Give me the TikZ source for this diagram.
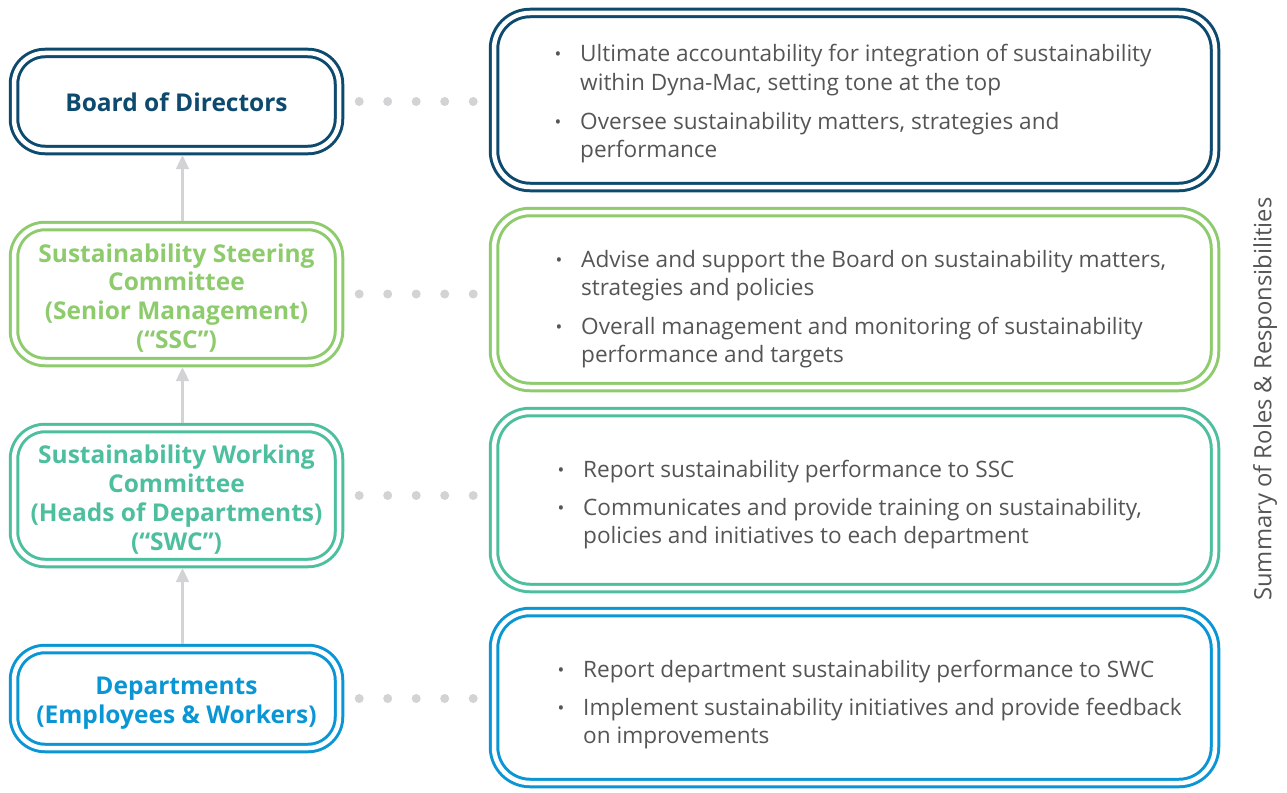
\documentclass[tikz,border=0pt]{standalone}
\usepackage{fontspec}
\setmainfont{Open Sans}
\usetikzlibrary{arrows.meta,calc}
\definecolor{cNavy}{HTML}{0D4A6E}
\definecolor{cGreen}{HTML}{8DCB6C}
\definecolor{cTeal}{HTML}{4DBF9F}
\definecolor{cBlue}{HTML}{0A96D4}
\definecolor{cText}{HTML}{555555}
\definecolor{cGray}{HTML}{D3D3D5}
\tikzset{
  leftbox/.style={draw=#1, line width=3pt, double=white, double distance=4.5pt,
    rounded corners=31pt, minimum width=325pt, outer sep=5.2pt, inner sep=0pt},
  lefttext/.style={text=#1, inner sep=0pt, font=\bfseries\fontsize{24.5}{28.8}\selectfont, align=center},
  rightbox/.style={draw=#1, line width=3pt, double=white, double distance=4.5pt,
    rounded corners=36pt, minimum width=721pt, outer sep=5.2pt, inner sep=0pt},
  uparrow/.style={draw=cGray, line width=2.2pt, -{Triangle[width=13pt,length=14pt]}},
  dotline/.style={draw=cGray, line width=9pt, line cap=round, dash pattern=on 0pt off 28.5pt},
  btxt/.style={anchor=base west, inner sep=0pt, text=cText, font=\fontsize{22.6}{28}\selectfont},
  bdot/.style={anchor=base, inner sep=0pt, text=cText, font=\fontsize{18}{28}\selectfont},
}
\begin{document}
\begin{tikzpicture}[x=1pt,y=-1pt]
\useasboundingbox (0,0) rectangle (1287,792);

% left boxes
\node[leftbox=cNavy, minimum height=97pt] (board) at (176.5,101.5) {};
\node[leftbox=cGreen, minimum height=136pt] (ssc) at (176.5,294) {};
\node[leftbox=cTeal, minimum height=135pt] (swc) at (176.5,495.5) {};
\node[leftbox=cBlue, minimum height=99pt] (dept) at (176.5,698.5) {};
\node[lefttext=cNavy] (boardt) at ([yshift=-1pt]board.center) {Board of Directors};
\node[lefttext=cGreen] (ssct) at ([yshift=-4pt]ssc.center) {Sustainability Steering\\Committee\\(Senior Management)\\(“SSC”)};
\node[lefttext=cTeal] (swct) at ([yshift=-4pt]swc.center) {Sustainability Working\\Committee\\(Heads of Departments)\\(“SWC”)};
\node[lefttext=cBlue] (deptt) at ([yshift=-4.5pt]dept.center) {Departments\\(Employees \& Workers)};

% right boxes
\node[rightbox=cNavy, minimum height=174pt] (rboard) at (854.5,100) {};
\node[rightbox=cGreen, minimum height=175pt] (rssc) at (854.5,299.5) {};
\node[rightbox=cTeal, minimum height=176pt] (rswc) at (854.5,500) {};
\node[rightbox=cBlue, minimum height=171pt] (rdept) at (854.5,697.5) {};

% arrows
\draw[uparrow] ([xshift=6pt]dept.north) -- ([xshift=6pt]swc.south);
\draw[uparrow] ([xshift=6pt]swc.north) -- ([xshift=6pt]ssc.south);
\draw[uparrow] ([xshift=6pt]ssc.north) -- ([xshift=6pt]board.south);

% dotted connectors
\draw[dotline] ([xshift=15pt]board.east) -- ([xshift=-14pt]board.east -| rboard.west);
\draw[dotline] ([xshift=15pt]ssc.east) -- ([xshift=-14pt]ssc.east -| rssc.west);
\draw[dotline] ([xshift=15pt]swc.east) -- ([xshift=-14pt]swc.east -| rswc.west);
\draw[dotline] ([xshift=15pt]dept.east) -- ([xshift=-14pt]dept.east -| rdept.west);

% board bullets
\node[bdot] (b1d) at (558,61) {•};
\node[btxt] (b1a) at (580,62) {Ultimate accountability for integration of sustainability};
\node[btxt] (b1b) at (580,90) {within Dyna-Mac, setting tone at the top};
\node[bdot] (b2d) at (558,128) {•};
\node[btxt] (b2a) at (580,129) {Oversee sustainability matters, strategies and};
\node[btxt] (b2b) at (580,157) {performance};

% ssc bullets
\node[bdot] (s1d) at (559,266) {•};
\node[btxt] (s1a) at (581,267) {Advise and support the Board on sustainability matters,};
\node[btxt] (s1b) at (581,295) {strategies and policies};
\node[bdot] (s2d) at (559,333) {•};
\node[btxt] (s2a) at (581,334) {Overall management and monitoring of sustainability};
\node[btxt] (s2b) at (581,362) {performance and targets};

% swc bullets
\node[bdot] (w1d) at (561,476) {•};
\node[btxt] (w1a) at (583,477) {Report sustainability performance to SSC};
\node[bdot] (w2d) at (561,514) {•};
\node[btxt] (w2a) at (583,515) {Communicates and provide training on sustainability,};
\node[btxt] (w2b) at (583,543) {policies and initiatives to each department};

% dept bullets
\node[bdot] (d1d) at (561,676) {•};
\node[btxt] (d1a) at (583,677) {Report department sustainability performance to SWC};
\node[bdot] (d2d) at (561,714) {•};
\node[btxt] (d2a) at (583,715) {Implement sustainability initiatives and provide feedback};
\node[btxt] (d2b) at (583,743) {on improvements};

% side label
\node[rotate=90, text=cText, font=\fontsize{23.8}{26}\selectfont, inner sep=0pt] (side) at (1265,399) {Summary of Roles \& Responsibilities};
\end{tikzpicture}
\end{document}
